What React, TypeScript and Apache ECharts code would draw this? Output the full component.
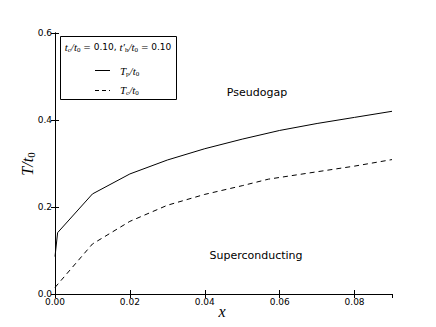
import React, { useEffect, useRef } from "react";
import * as echarts from "echarts";

const xTp = [0, 0.0007, 0.01, 0.02, 0.03, 0.04, 0.05, 0.06, 0.07, 0.08, 0.09];
const Tp = [0.086, 0.141, 0.23, 0.276, 0.308, 0.334, 0.356, 0.376, 0.392, 0.406, 0.42];
const xTc = [0, 0.01, 0.02, 0.03, 0.04, 0.05, 0.057, 0.07, 0.08, 0.09];
const Tc = [0.015, 0.115, 0.167, 0.204, 0.229, 0.249, 0.264, 0.281, 0.294, 0.309];

const MATH = "'Liberation Serif', 'DejaVu Serif', serif";
const SANS = "'DejaVu Sans', sans-serif";

const rich = {
  i: { fontFamily: MATH, fontStyle: "italic", fontSize: 11, color: "#000" },
  s: { fontFamily: MATH, fontStyle: "normal", fontSize: 7, color: "#000", padding: [5, 0, 0, 0] },
  n: { fontFamily: SANS, fontSize: 9, color: "#000" },
  I: { fontFamily: MATH, fontStyle: "italic", fontSize: 16, color: "#000" },
  S: { fontFamily: MATH, fontStyle: "normal", fontSize: 11, color: "#000", padding: [7, 0, 0, 0] },
};

export default function App() {
  const ref = useRef<HTMLDivElement>(null);
  useEffect(() => {
    const chart = echarts.init(ref.current!, null, { renderer: "svg" });
    const axisLine = { show: true, lineStyle: { color: "#000", width: 1 } };
    chart.setOption({
      animation: false,
      backgroundColor: "#fff",
      grid: { left: 55, right: 44, top: 33, bottom: 33 },
      xAxis: [
        {
          type: "value",
          min: 0,
          max: 0.09,
          interval: 0.02,
          position: "bottom",
          axisLine,
          axisTick: { show: true, inside: true, length: 4, lineStyle: { color: "#000" } },
          axisLabel: {
            showMaxLabel: false,
            fontFamily: SANS,
            fontSize: 9,
            color: "#000",
            margin: 3,
            formatter: (v: number) => v.toFixed(2),
          },
          splitLine: { show: false },
        },
        {
          type: "value",
          min: 0,
          max: 0.09,
          interval: 0.02,
          position: "top",
          axisLine,
          axisTick: { show: true, inside: true, length: 4, lineStyle: { color: "#000" } },
          axisLabel: { show: false },
          splitLine: { show: false },
        },
      ],
      yAxis: [
        {
          type: "value",
          min: 0,
          max: 0.6,
          interval: 0.2,
          position: "left",
          axisLine,
          axisTick: { show: true, inside: true, length: 4, lineStyle: { color: "#000" } },
          axisLabel: {
            fontFamily: SANS,
            fontSize: 9,
            color: "#000",
            margin: 3,
            formatter: (v: number) => v.toFixed(1),
          },
          splitLine: { show: false },
        },
        {
          type: "value",
          min: 0,
          max: 0.6,
          interval: 0.2,
          position: "right",
          axisLine,
          axisTick: { show: true, inside: true, length: 4, lineStyle: { color: "#000" } },
          axisLabel: { show: false },
          splitLine: { show: false },
        },
      ],
      series: [
        {
          type: "line",
          name: "Tp",
          data: xTp.map((x, i) => [x, Tp[i]]),
          symbol: "none",
          lineStyle: { color: "#000", width: 1 },
          z: 3,
        },
        {
          type: "line",
          name: "Tc",
          data: xTc.map((x, i) => [x, Tc[i]]),
          symbol: "none",
          lineStyle: { color: "#000", width: 1, type: [5, 4] },
          z: 3,
        },
      ],
      graphic: [
        {
          type: "text",
          x: 222,
          y: 311,
          style: { text: "{I|x}", rich, align: "center", verticalAlign: "middle" },
        },
        {
          type: "text",
          x: 27,
          y: 164,
          rotation: Math.PI / 2,
          style: { text: "{I|T/t}{S|0}", rich, align: "center", verticalAlign: "middle" },
        },
        {
          type: "text",
          x: 257,
          y: 92,
          style: { text: "Pseudogap", fontFamily: SANS, fontSize: 11, fill: "#000", align: "center", verticalAlign: "middle" },
        },
        {
          type: "text",
          x: 256,
          y: 255,
          style: { text: "Superconducting", fontFamily: SANS, fontSize: 11, fill: "#000", align: "center", verticalAlign: "middle" },
        },
        {
          type: "rect",
          shape: { x: 60.5, y: 36.5, width: 116, height: 63 },
          style: { fill: "#fff", stroke: "#000", lineWidth: 1 },
          z: 10,
        },
        {
          type: "text",
          x: 118,
          y: 47,
          z: 11,
          style: {
            text: "{i|t}{s|c}{i|/t}{s|0}{n| = 0.10, }{i|t′}{s|h}{i|/t}{s|0}{n| = 0.10}",
            rich,
            align: "center",
            verticalAlign: "middle",
          },
        },
        {
          type: "line",
          z: 11,
          shape: { x1: 95, y1: 70.5, x2: 110, y2: 70.5 },
          style: { stroke: "#000", lineWidth: 1 },
        },
        {
          type: "line",
          z: 11,
          shape: { x1: 95, y1: 90.5, x2: 110, y2: 90.5 },
          style: { stroke: "#000", lineWidth: 1, lineDash: [4, 3] },
        },
        {
          type: "text",
          x: 120,
          y: 71,
          z: 11,
          style: { text: "{i|T}{s|p}{i|/t}{s|0}", rich, align: "left", verticalAlign: "middle" },
        },
        {
          type: "text",
          x: 120,
          y: 90,
          z: 11,
          style: { text: "{i|T}{s|c}{i|/t}{s|0}", rich, align: "left", verticalAlign: "middle" },
        },
      ],
    });
    return () => chart.dispose();
  }, []);
  return <div ref={ref} style={{ width: 436, height: 327, position: "absolute", left: 0, top: 0 }} />;
}
